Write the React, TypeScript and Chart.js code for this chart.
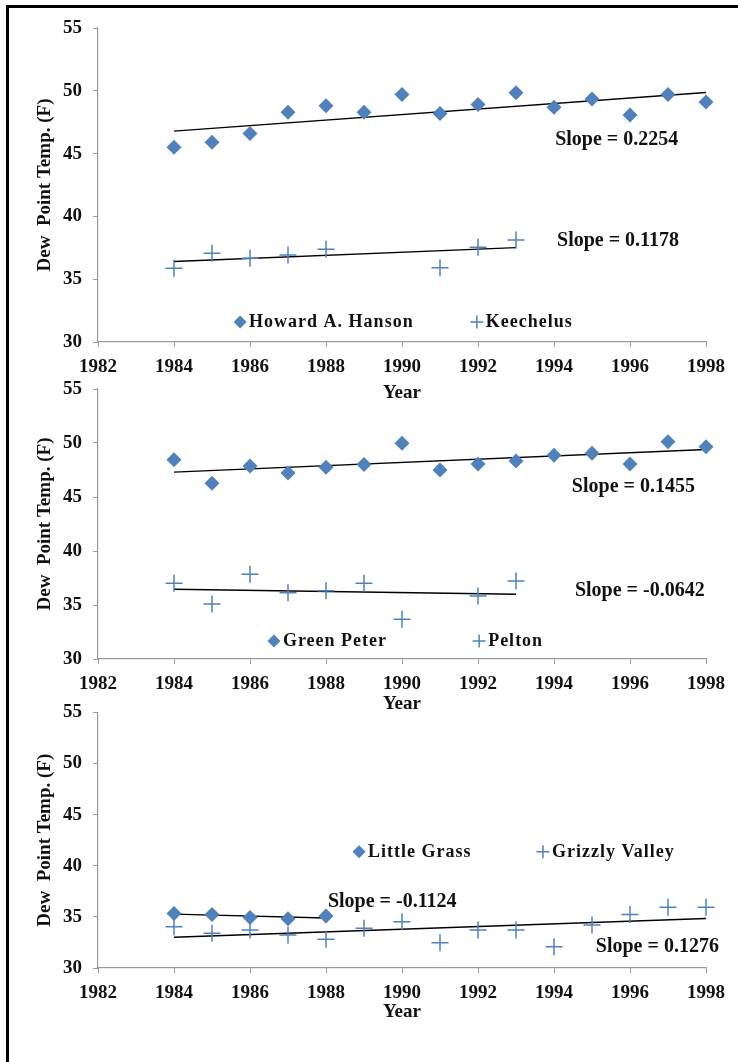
import React, { useEffect, useRef } from 'react';
import { Chart, registerables } from 'chart.js';

Chart.register(...registerables);

// ---------- data ----------
const yearsFull = [1984, 1985, 1986, 1987, 1988, 1989, 1990, 1991, 1992, 1993, 1994, 1995, 1996, 1997, 1998];

const hansonValues = [45.5, 45.9, 46.6, 48.3, 48.8, 48.3, 49.7, 48.2, 48.9, 49.85, 48.7, 49.35, 48.07, 49.7, 49.1];
const keechelusYears = [1984, 1985, 1986, 1987, 1988, 1991, 1992, 1993];
const keechelusValues = [35.87, 37.06, 36.66, 36.93, 37.38, 35.92, 37.54, 38.12];

const greenPeterValues = [48.45, 46.27, 47.87, 47.22, 47.75, 48.02, 49.97, 47.5, 48.06, 48.33, 48.86, 49.05, 48.06, 50.12, 49.66];
const peltonYears = [1984, 1985, 1986, 1987, 1988, 1989, 1990, 1992, 1993];
const peltonValues = [37.01, 35.1, 37.84, 36.14, 36.33, 37.01, 33.67, 35.83, 37.22];

const littleGrassYears = [1984, 1985, 1986, 1987, 1988];
const littleGrassValues = [35.34, 35.24, 34.95, 34.81, 35.08];
const grizzlyValues = [34.03, 33.39, 33.71, 33.22, 32.8, 33.9, 34.52, 32.47, 33.71, 33.71, 32.08, 34.2, 35.24, 35.93, 35.93];

const slopeLabels1 = ['Slope = 0.2254', 'Slope = 0.1178'];
const slopeLabels2 = ['Slope = 0.1455', 'Slope = -0.0642'];
const slopeLabels3 = ['Slope = -0.1124', 'Slope = 0.1276'];

const X_MIN = 1982, X_MAX = 1998, X_STEP = 2;
const Y_MIN = 30, Y_MAX = 55, Y_STEP = 5;

// ---------- styles ----------
const BLUE = '#4F81BD';
const AXIS_GRAY = '#9a9a9a';
const TEXT = '#111111';
const SERIF = '"Liberation Serif", "Times New Roman", serif';

function linFit(xs: number[], ys: number[]) {
  const n = xs.length;
  const mx = xs.reduce((a, b) => a + b, 0) / n;
  const my = ys.reduce((a, b) => a + b, 0) / n;
  let sxy = 0, sxx = 0;
  for (let i = 0; i < n; i++) {
    sxy += (xs[i] - mx) * (ys[i] - my);
    sxx += (xs[i] - mx) * (xs[i] - mx);
  }
  const b = sxy / sxx;
  const a = my - b * mx;
  const x0 = Math.min(...xs), x1 = Math.max(...xs);
  return [{ x: x0, y: a + b * x0 }, { x: x1, y: a + b * x1 }];
}

const overlayPlugin = {
  id: 'overlay',
  afterDraw(chart: any, _args: any, opts: any) {
    const ctx = chart.ctx;
    const xs = chart.scales.x, ys = chart.scales.y;
    ctx.save();
    // slope labels
    ctx.fillStyle = TEXT;
    ctx.textBaseline = 'middle';
    ctx.textAlign = 'left';
    ctx.font = `bold 20px ${SERIF}`;
    (opts.labels || []).forEach((l: any) => {
      ctx.fillText(l.text, xs.getPixelForValue(l.x), ys.getPixelForValue(l.y));
    });
    // legend
    (opts.legend || []).forEach((it: any) => {
      const px = xs.getPixelForValue(it.x);
      const py = ys.getPixelForValue(it.y);
      const r = 6.5;
      if (it.marker === 'diamond') {
        ctx.fillStyle = BLUE;
        ctx.beginPath();
        ctx.moveTo(px - r, py);
        ctx.lineTo(px, py - r);
        ctx.lineTo(px + r, py);
        ctx.lineTo(px, py + r);
        ctx.closePath();
        ctx.fill();
      } else {
        ctx.strokeStyle = BLUE;
        ctx.lineWidth = 1.5;
        ctx.beginPath();
        ctx.moveTo(px - r, py);
        ctx.lineTo(px + r, py);
        ctx.moveTo(px, py - r);
        ctx.lineTo(px, py + r);
        ctx.stroke();
      }
      ctx.fillStyle = TEXT;
      ctx.font = `bold 18px ${SERIF}`;
      (ctx as any).letterSpacing = '1px';
      ctx.fillText(it.text, px + 9, py);
      (ctx as any).letterSpacing = '0px';
    });
    ctx.restore();
  },
};

type PanelProps = {
  top: number;
  padTop: number;
  areaH: number;
  xH: number;
  nameA: string;
  xsA: number[];
  ysA: number[];
  nameB: string;
  xsB: number[];
  ysB: number[];
  labels: any[];
  legend: any[];
};

function Panel(p: PanelProps) {
  const ref = useRef<HTMLCanvasElement | null>(null);
  const height = p.padTop + p.areaH + p.xH;
  useEffect(() => {
    if (!ref.current) return;
    const tickFont = { family: SERIF, size: 19, weight: 'bold' as const };
    const chart = new Chart(ref.current, {
      type: 'scatter',
      data: {
        datasets: [
          {
            label: p.nameA,
            data: p.xsA.map((x, i) => ({ x, y: p.ysA[i] })),
            pointStyle: 'rectRot',
            pointRadius: 7.5,
            backgroundColor: BLUE,
            borderColor: BLUE,
            borderWidth: 0,
            clip: false,
          },
          {
            label: p.nameB,
            data: p.xsB.map((x, i) => ({ x, y: p.ysB[i] })),
            pointStyle: 'cross',
            pointRadius: 8.5,
            backgroundColor: BLUE,
            borderColor: BLUE,
            borderWidth: 1.5,
            clip: false,
          },
          {
            label: 'trendA',
            data: linFit(p.xsA, p.ysA),
            showLine: true,
            pointRadius: 0,
            borderColor: '#000',
            borderWidth: 1.4,
            clip: false,
          },
          {
            label: 'trendB',
            data: linFit(p.xsB, p.ysB),
            showLine: true,
            pointRadius: 0,
            borderColor: '#000',
            borderWidth: 1.4,
            clip: false,
          },
        ] as any,
      },
      options: {
        responsive: false,
        animation: false,
        events: [],
        layout: { padding: { top: p.padTop, left: 0, right: 32, bottom: 0 } },
        plugins: {
          legend: { display: false },
          tooltip: { enabled: false },
          overlay: { labels: p.labels, legend: p.legend },
        } as any,
        scales: {
          x: {
            type: 'linear',
            min: X_MIN,
            max: X_MAX,
            ticks: {
              stepSize: X_STEP,
              font: tickFont,
              color: TEXT,
              padding: 9,
              callback: (v: any) => String(v),
            },
            grid: { drawOnChartArea: false, tickLength: 5, color: AXIS_GRAY },
            border: { color: AXIS_GRAY, width: 1.2 },
            title: { display: true, text: 'Year', font: tickFont, color: TEXT, padding: 0 },
            afterFit: (s: any) => { s.height = p.xH; },
          },
          y: {
            type: 'linear',
            min: Y_MIN,
            max: Y_MAX,
            ticks: {
              stepSize: Y_STEP,
              font: tickFont,
              color: TEXT,
              padding: 11,
              callback: (v: any) => String(v),
            },
            grid: { drawOnChartArea: false, tickLength: 5, color: AXIS_GRAY },
            border: { color: AXIS_GRAY, width: 1.2 },
            title: {
              display: true,
              text: 'Dew  Point Temp. (F)',
              font: tickFont,
              color: TEXT,
              padding: { top: 34, bottom: 0 },
            },
            afterFit: (s: any) => { s.width = 98; },
          },
        },
      } as any,
      plugins: [overlayPlugin],
    });
    return () => chart.destroy();
  }, []);
  return (
    <canvas
      ref={ref}
      width={738}
      height={height}
      style={{ position: 'absolute', left: 0, top: p.top, width: 738, height }}
    />
  );
}

export default function App() {
  return (
    <div style={{ position: 'absolute', left: 0, top: 0, width: 738, height: 1062, background: '#fff', overflow: 'hidden' }}>
      <div
        style={{
          position: 'absolute',
          left: 6,
          top: 5,
          width: 740,
          height: 1070,
          borderLeft: '3px solid #000',
          borderTop: '3px solid #000',
          boxSizing: 'border-box',
        }}
      />
      <Panel
        top={0}
        padTop={28}
        areaH={314}
        xH={62}
        nameA="Howard A. Hanson"
        xsA={yearsFull}
        ysA={hansonValues}
        nameB="Keechelus"
        xsB={keechelusYears}
        ysB={keechelusValues}
        labels={[
          { text: slopeLabels1[0], x: 1994.03, y: 46.08 },
          { text: slopeLabels1[1], x: 1994.08, y: 38.04 },
        ]}
        legend={[
          { marker: 'diamond', text: 'Howard A. Hanson', x: 1985.74, y: 31.59 },
          { marker: 'cross', text: 'Keechelus', x: 1991.97, y: 31.59 },
        ]}
      />
      <Panel
        top={360}
        padTop={29}
        areaH={270}
        xH={56}
        nameA="Green Peter"
        xsA={yearsFull}
        ysA={greenPeterValues}
        nameB="Pelton"
        xsB={peltonYears}
        ysB={peltonValues}
        labels={[
          { text: slopeLabels2[0], x: 1994.47, y: 45.95 },
          { text: slopeLabels2[1], x: 1994.55, y: 36.32 },
        ]}
        legend={[
          { marker: 'diamond', text: 'Green Peter', x: 1986.63, y: 31.67 },
          { marker: 'cross', text: 'Pelton', x: 1992.03, y: 31.67 },
        ]}
      />
      <Panel
        top={690}
        padTop={22}
        areaH={256}
        xH={55}
        nameA="Little Grass"
        xsA={littleGrassYears}
        ysA={littleGrassValues}
        nameB="Grizzly Valley"
        xsB={yearsFull}
        ysB={grizzlyValues}
        labels={[
          { text: slopeLabels3[0], x: 1988.05, y: 36.47 },
          { text: slopeLabels3[1], x: 1995.1, y: 32.05 },
        ]}
        legend={[
          { marker: 'diamond', text: 'Little Grass', x: 1988.87, y: 41.36 },
          { marker: 'cross', text: 'Grizzly Valley', x: 1993.71, y: 41.36 },
        ]}
      />
    </div>
  );
}
